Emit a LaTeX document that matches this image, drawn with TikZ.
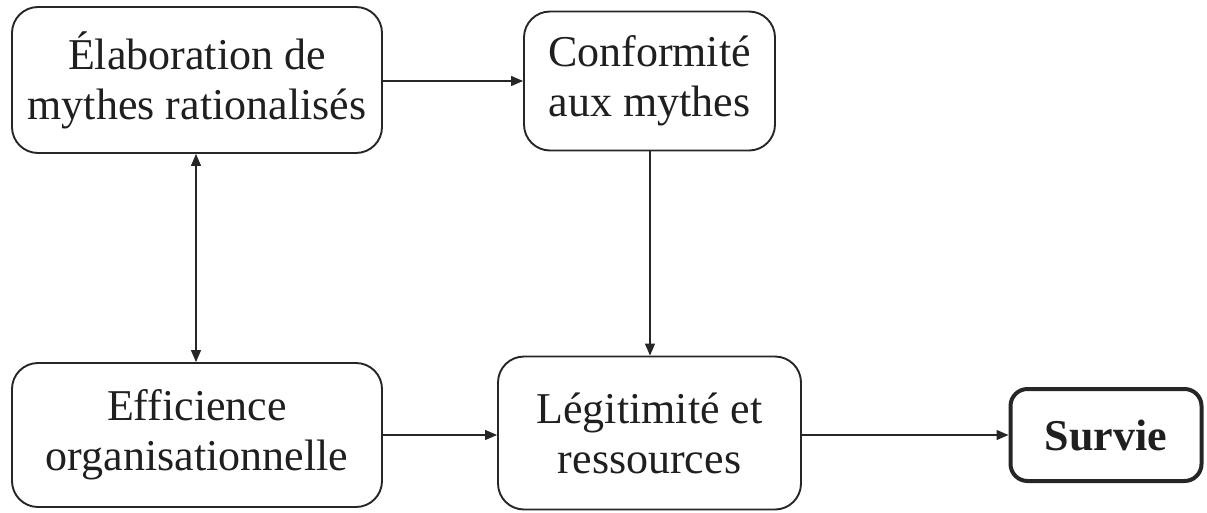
\documentclass[tikz,border=0pt]{standalone}
\usepackage{fontspec}
\setmainfont{Liberation Serif}
\usetikzlibrary{arrows.meta}
\begin{document}
\begin{tikzpicture}[x=1pt,y=-1pt,
  box/.style={draw=black!85, line width=1.9pt, rounded corners=26pt,
    align=center, inner sep=0pt,
    font=\fontsize{44}{50}\selectfont, text=black!88},
  endbox/.style={box, line width=4pt, rounded corners=17pt,
    font=\fontsize{44}{50}\selectfont\bfseries},
  link/.style={draw=black!85, line width=1.3pt,
    -{Triangle[length=12pt,width=10pt]}},
  both/.style={link, {Triangle[length=12pt,width=10pt]}-{Triangle[length=12pt,width=10pt]}}]
  \useasboundingbox (0,0) rectangle (1207,512);

  % the five boxes
  \node[box, minimum width=370pt, minimum height=146pt] (myth) at (197,80)
    {Élaboration de\\mythes rationalisés};
  \node[box, minimum width=251pt, minimum height=139pt] (conf) at (649.5,81)
    {Conformité\\aux mythes};
  \node[box, minimum width=370pt, minimum height=144pt] (eff) at (197,435)
    {Efficience\\organisationnelle};
  \node[box, minimum width=303pt, minimum height=153pt] (legit) at (649.5,433)
    {Légitimité et\\ressources};
  \node[endbox, minimum width=191pt, minimum height=92pt] (surv) at (1106,435)
    {Survie};

  % connectors
  \draw[link] (myth.east |- 0,81) -- (conf.west |- 0,81);
  \draw[link] (conf.south -| 650,0) -- (legit.north -| 650,0);
  \draw[both] (myth.south -| 196,0) -- (eff.north -| 196,0);
  \draw[link] (eff.east |- 0,435) -- (legit.west |- 0,435);
  \draw[link] (legit.east |- 0,435) -- (surv.west |- 0,435);
\end{tikzpicture}
\end{document}
